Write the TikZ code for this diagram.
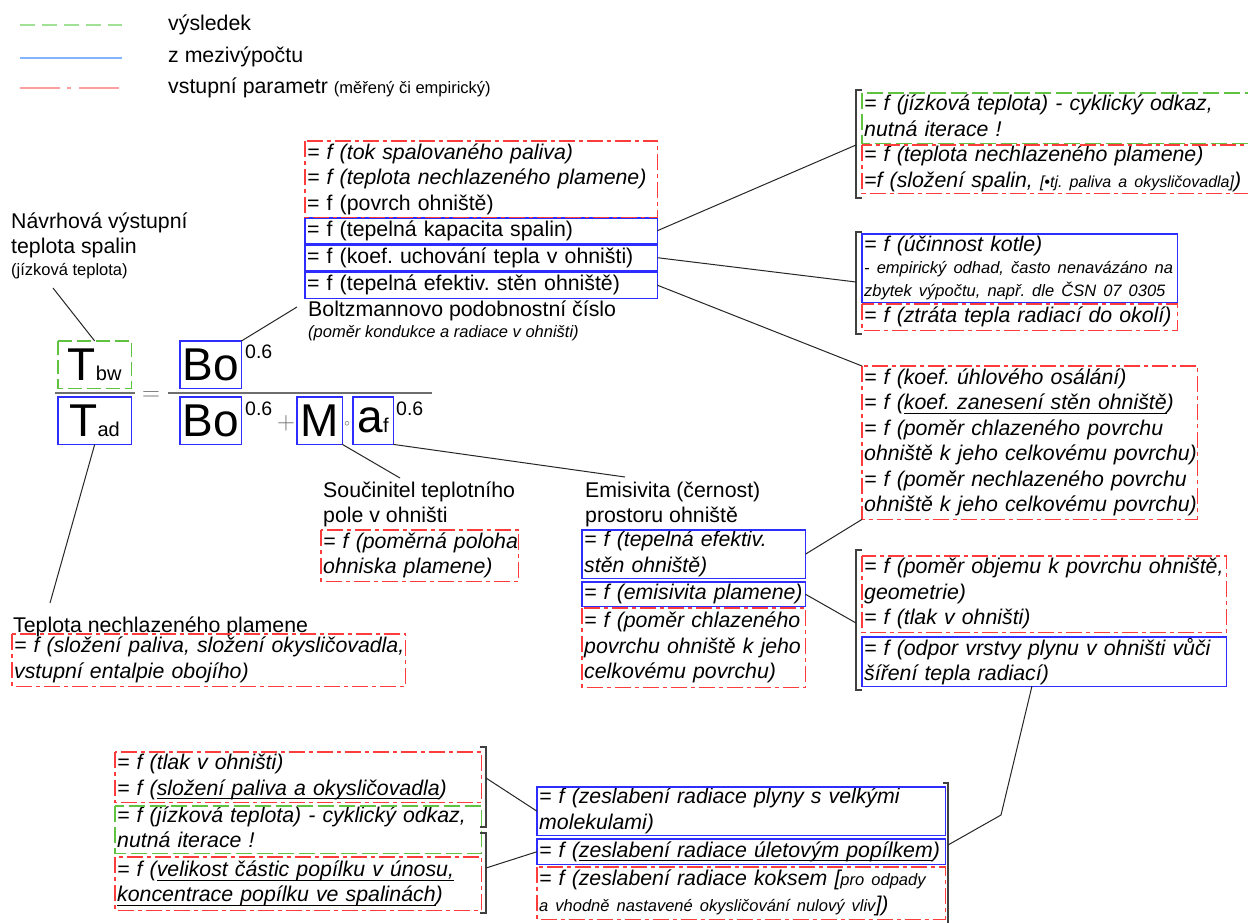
\documentclass[tikz,border=0pt]{standalone}
\usepackage{fontspec}
\setmainfont{Liberation Sans}
\usetikzlibrary{calc}

\definecolor{cblue}{RGB}{45,45,255}
\definecolor{cred}{RGB}{255,60,60}
\definecolor{cgreen}{RGB}{95,195,65}
\definecolor{lblue}{RGB}{130,180,255}
\definecolor{lred}{RGB}{255,160,160}
\definecolor{lgreen}{RGB}{160,225,150}
\definecolor{eqgray}{RGB}{110,110,110}

\frenchspacing
\newcommand\fs{\fontsize{21.3}{25.5}\selectfont}
\newcommand\fsm{\fontsize{16.5}{22.5}\selectfont}
\newcommand\fsb{\fontsize{46}{46}\selectfont}
\newcommand\fsub{\fontsize{20}{20}\selectfont}
\newcommand\stq{\rule[-5pt]{0pt}{19pt}}
\newcommand\Lq[1]{\stq\mbox{#1}}
\newcommand\uq[1]{\setbox0\hbox{#1}\rlap{\rule[-4pt]{\wd0}{0.8pt}}\box0}

\tikzset{
  box/.style={anchor=north west, inner xsep=2pt, inner ysep=0pt, align=left, font=\fs},
  resline/.style={draw=cgreen, line width=1.8pt, dash pattern=on 16pt off 5pt},
  midline/.style={draw=cblue, line width=1.7pt},
  inline/.style={draw=cred, line width=1.8pt, dash pattern=on 16pt off 4pt on 4pt off 4pt},
  lbl/.style={anchor=base west, inner sep=0pt, font=\fs},
  slbl/.style={anchor=base west, inner sep=0pt, font=\fsm},
  conn/.style={draw=black!85, line width=1pt},
  brk/.style={draw=black!75, line width=1.4pt},
  fbox/.style={anchor=north west, inner sep=0pt, font=\fsb},
  expo/.style={anchor=base west, inner sep=0pt, font=\fontsize{19.5}{19.5}\selectfont},
}

\begin{document}
\begin{tikzpicture}[x=1pt,y=-1pt]
\fill[white] (0,0) rectangle (1248,922);
\useasboundingbox (0,0) rectangle (1248,922);

% ---------- legend ----------
\draw[lgreen, line width=1.5pt, dash pattern=on 15pt off 7pt] (20,25) -- (122,25);
\draw[lblue, line width=1.5pt] (20,58) -- (122,58);
\draw[lred, line width=1.5pt, dash pattern=on 40pt off 7pt on 4pt off 8pt] (20,88) -- (122,88);
\node[lbl] (lg1) at (168,30) {výsledek};
\node[lbl] (lg2) at (168,62) {z mezivýpočtu};
\node[lbl] (lg3) at (168,93) {vstupní parametr {\fsm (měřený či empirický)}};

% ---------- labels ----------
\node[lbl] (n1) at (11,228) {Návrhová výstupní};
\node[lbl] (n2) at (11,253) {teplota spalin};
\node[slbl] (n3) at (11,275) {(jízková teplota)};
\node[lbl] (bz1) at (308,316) {Boltzmannovo podobnostní číslo};
\node[slbl, font=\fsm\itshape] (bz2) at (308,337) {(poměr kondukce a radiace v ohništi)};
\node[lbl] (s1) at (323,497) {Součinitel teplotního};
\node[lbl] (s2) at (323,522) {pole v ohništi};
\node[lbl] (em1) at (585,497) {Emisivita (černost)};
\node[lbl] (em2) at (585,522) {prostoru ohniště};
\node[lbl] (tp) at (13,632) {Teplota nechlazeného plamene};

% ---------- formula ----------
\node[fbox, minimum width=73pt, minimum height=47pt] (Tbw) at (58,341) {T{\fsub bw}};
\node[fbox, minimum width=73pt, minimum height=47pt] (Tad) at (58,397) {T{\fsub ad}};
\draw[eqgray, line width=1.3pt] (55,393) -- (135,393);
\node[anchor=base, inner sep=0pt, text=eqgray, font=\fontsize{28}{28}\selectfont] (eq) at (151,400) {$=$};
\draw[eqgray, line width=1.3pt] (168,393) -- (432,393);
\node[fbox, minimum width=61pt, minimum height=47pt] (BoN) at (180,341) {Bo};
\node[expo] (e1) at (245,358) {0.6};
\node[fbox, minimum width=61pt, minimum height=47pt] (BoD) at (180,397) {Bo};
\node[expo] (e2) at (245,415) {0.6};
\node[anchor=base, inner sep=0pt, text=eqgray, font=\fontsize{26}{26}\selectfont] (plus) at (286,429.5) {$+$};
\node[fbox, minimum width=45pt, minimum height=47pt] (M) at (297,397) {M};
\node[anchor=base, inner sep=0pt, text=black!70, font=\fontsize{11}{11}\selectfont] (dot) at (347,426) {$\circ$};
\node[fbox, minimum width=40pt, minimum height=47pt] (af) at (353,397) {a{\fsub f}};
\node[expo] (e3) at (396,415) {0.6};

% ---------- top middle stack ----------
\node[box, minimum width=352pt, text width=348pt, minimum height=76pt] (A1) at (305,141)
  {\Lq{\itshape = f (tok spalovaného paliva)}\\\Lq{\itshape = f (teplota nechlazeného plamene)}\\\Lq{= f (povrch ohniště)}};
\node[box, minimum width=352pt, text width=348pt, minimum height=25pt] (A2) at (305,218)
  {\Lq{= f (tepelná kapacita spalin)}};
\node[box, minimum width=352pt, text width=348pt, minimum height=25pt] (A3) at (305,245)
  {\Lq{= f (koef. uchování tepla v ohništi)}};
\node[box, minimum width=352pt, text width=348pt, minimum height=26pt] (A4) at (305,272)
  {\Lq{= f (tepelná efektiv. stěn ohniště)}};

% ---------- top right ----------
\node[box, minimum width=390pt, text width=386pt, minimum height=50pt] (B1) at (862,93)
  {\Lq{\itshape = f (jízková teplota) - cyklický odkaz,}\\\Lq{\itshape nutná iterace !}};
\node[box, minimum width=390pt, text width=386pt, minimum height=48pt] (B2) at (862,145)
  {\Lq{\itshape = f (teplota nechlazeného plamene)}\\\Lq{\itshape =f (složení spalin, {\fontsize{16}{20}\selectfont [•tj. paliva a okysličovadla]})}};
\node[box, minimum width=315pt, text width=311pt, minimum height=68pt] (B3) at (862,234)
  {\Lq{\itshape = f (účinnost kotle)}\\[-3pt]\Lq{\fsm\itshape - empirický odhad, často nenavázáno na}\\[-3pt]\Lq{\fsm\itshape zbytek výpočtu, např. dle ČSN 07 0305}};
\node[box, minimum width=315pt, text width=311pt, minimum height=26pt] (B4) at (862,304)
  {\Lq{\itshape = f (ztráta tepla radiací do okolí)}};

\node[box, minimum width=335pt, text width=331pt, minimum height=153pt] (C) at (862,366)
  {\Lq{\itshape = f (koef. úhlového osálání)}\\
   \Lq{\itshape = f (\uq{koef. zanesení stěn ohniště})}\\
   \Lq{\itshape = f (poměr chlazeného povrchu}\\
   \Lq{\itshape ohniště k jeho celkovému povrchu)}\\
   \Lq{\itshape = f (poměr nechlazeného povrchu}\\
   \Lq{\itshape ohniště k jeho celkovému povrchu)}};

\node[box, minimum width=364pt, text width=360pt, minimum height=76pt] (D1) at (862,556)
  {\Lq{\itshape = f (poměr objemu k povrchu ohniště,}\\\Lq{\itshape geometrie)}\\\Lq{\itshape = f (tlak v ohništi)}};
\node[box, minimum width=364pt, text width=360pt, minimum height=49pt] (D2) at (862,637)
  {\Lq{\itshape = f (odpor vrstvy plynu v ohništi vůči}\\\Lq{\itshape šíření tepla radiací)}};

% ---------- middle ----------
\node[box, minimum width=197pt, text width=193pt, minimum height=51pt] (E) at (321,530)
  {\Lq{\itshape = f (poměrná poloha}\\\Lq{\itshape ohniska plamene)}};
\node[box, minimum width=223pt, text width=219pt, minimum height=48pt] (F1) at (582,530)
  {\Lq{\itshape = f (tepelná efektiv.}\\\Lq{\itshape stěn ohniště)}};
\node[box, minimum width=223pt, text width=219pt, minimum height=24pt] (F2) at (582,582)
  {\Lq{\itshape = f (emisivita plamene)}};
\node[box, minimum width=223pt, text width=219pt, minimum height=79pt] (F3) at (582,608)
  {\Lq{\itshape = f (poměr chlazeného}\\\Lq{\itshape povrchu ohniště k jeho}\\\Lq{\itshape celkovému povrchu)}};
\node[box, minimum width=393pt, text width=389pt, minimum height=52pt] (G) at (12,634)
  {\Lq{\itshape = f (složení paliva, složení okysličovadla,}\\\Lq{\itshape vstupní entalpie obojího)}};

% ---------- bottom left ----------
\node[box, minimum width=366pt, text width=362pt, minimum height=50pt] (H1) at (115,752)
  {\Lq{\itshape = f (tlak v ohništi)}\\\Lq{\itshape = f (\uq{složení paliva a okysličovadla})}};
\node[box, minimum width=366pt, text width=362pt, minimum height=47pt] (H2) at (115,806)
  {\Lq{\itshape = f (jízková teplota) - cyklický odkaz,}\\\Lq{\itshape nutná iterace !}};
\node[box, minimum width=366pt, text width=362pt, minimum height=53pt] (H3) at (115,857)
  {\Lq{\itshape = f (\uq{velikost částic popílku v únosu,}}\\\Lq{\itshape \uq{koncentrace popílku ve spalinách})}};

% ---------- bottom middle ----------
\node[box, minimum width=408pt, text width=404pt, minimum height=48pt] (I1) at (537,787)
  {\Lq{\itshape = f (zeslabení radiace plyny s velkými}\\\Lq{\itshape molekulami)}};
\node[box, minimum width=408pt, text width=404pt, minimum height=25pt] (I2) at (537,839)
  {\Lq{\itshape = f (\uq{zeslabení radiace úletovým popílkem})}};
\node[box, minimum width=408pt, text width=404pt, minimum height=52pt] (I3) at (537,867)
  {\Lq{\itshape = f (zeslabení radiace koksem [{\fsm pro odpady}}\\\Lq{\itshape {\fsm a vhodně nastavené okysličování nulový vliv}])}};

% ---------- box borders ----------
\draw[resline, dash pattern=on 14pt off 5pt] (Tbw.north west) rectangle (Tbw.south east);
\foreach \b in {Tad,BoN,BoD,M,af,A2,A3,A4,B3,D2,F1,F2,I1,I2}
  \draw[midline] (\b.north west) rectangle (\b.south east);
\foreach \b in {A1,B2,B4,C,D1,E,F3,G,H1,H3,I3}
  \draw[inline] (\b.north west) rectangle (\b.south east);
\foreach \b in {B1,H2}
  \draw[resline] (\b.north west) rectangle (\b.south east);

% ---------- brackets ----------
\draw[brk] (862,90) -- (856,90) -- (856,198) -- (862,198);
\draw[brk] (862,232) -- (856,232) -- (856,334) -- (862,334);
\draw[brk] (862,550) -- (856,550) -- (856,690) -- (862,690);
\draw[brk] (480,747) -- (486,747) -- (486,827) -- (480,827);
\draw[brk] (480,833) -- (486,833) -- (486,913) -- (480,913);
\draw[brk] (943,783) -- (948,783) -- (948,925);

% ---------- connector ends ----------
\coordinate (c1) at (53,288);
\coordinate (c2) at (50,603);
\coordinate (c3) at (297,307);
\coordinate (c4) at (400,478);
\coordinate (c5) at (625,477);
\coordinate (br1) at (856,145);
\coordinate (br2) at (856,282);
\coordinate (br3) at (856,623);
\coordinate (brL1) at (486,778);
\coordinate (brL2) at (486,868);
\coordinate (brB) at (948,845);
\coordinate (d2b) at (1032,686);
\coordinate (bend) at (1001,815);

% ---------- connectors ----------
\draw[conn] (Tbw.north) -- (c1);
\draw[conn] (Tad.south) -- (c2);
\draw[conn] (BoN.north east) -- (c3);
\draw[conn] (M.south east) -- (c4);
\draw[conn] (af.south east) -- (c5);
\draw[conn] (A2.east) -- (br1);
\draw[conn] (A3.east) -- (br2);
\draw[conn] (A4.east) -- (C.north west);
\draw[conn] (F1.east) -- (C.south west);
\draw[conn] (F2.east) -- (br3);
\draw[conn] (brL1) -- (I1.west);
\draw[conn] (brL2) -- (I2.west);
\draw[conn] (d2b) -- (bend) -- (brB);
\end{tikzpicture}
\end{document}
